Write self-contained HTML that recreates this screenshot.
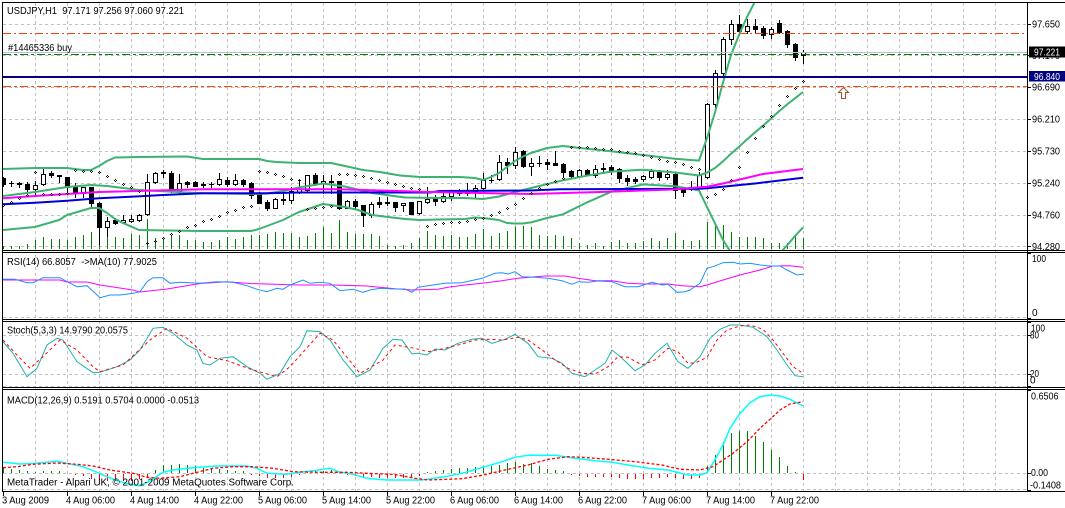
<!DOCTYPE html>
<html><head><meta charset="utf-8"><style>
html,body{margin:0;padding:0;background:#fff;}
svg{display:block;}
text{font-family:"Liberation Sans",sans-serif;font-size:10px;fill:#000;white-space:pre;}
</style></head><body>
<svg width="1065" height="508" viewBox="0 0 1065 508" xmlns="http://www.w3.org/2000/svg" xmlns:xlink="http://www.w3.org/1999/xlink">
<defs>
<clipPath id="cm"><rect x="3" y="3" width="1024" height="247"/></clipPath>
<clipPath id="cr"><rect x="3" y="253" width="1024" height="66"/></clipPath>
<clipPath id="cs"><rect x="3" y="322" width="1024" height="65"/></clipPath>
<clipPath id="cd"><rect x="3" y="390" width="1024" height="101"/></clipPath>
<path id="sd" d="M0,-1h1v1h-1zM-1,0h1v1h-1zM1,0h1v1h-1zM0,1h1v1h-1z" fill="#000" shape-rendering="crispEdges"/>
</defs>
<rect x="0" y="0" width="1065" height="508" fill="#fff"/>

<!-- grid -->
<g stroke="#C0C0C0" stroke-width="1" stroke-dasharray="3,3" fill="none" shape-rendering="crispEdges">
<path d="M35.5,3V491M67.5,3V491M99.5,3V491M131.5,3V491M163.5,3V491M195.5,3V491M227.5,3V491M259.5,3V491M291.5,3V491M323.5,3V491M355.5,3V491M387.5,3V491M419.5,3V491M451.5,3V491M483.5,3V491M515.5,3V491M547.5,3V491M579.5,3V491M611.5,3V491M643.5,3V491M675.5,3V491M707.5,3V491M739.5,3V491M771.5,3V491M803.5,3V491M835.5,3V491M867.5,3V491M899.5,3V491M931.5,3V491M963.5,3V491M995.5,3V491"/>
<path d="M3,24.5H1027M3,55.5H1027M3,87.5H1027M3,119.5H1027M3,151.5H1027M3,183.5H1027M3,215.5H1027M3,246.5H1027M3,317.5H1027M3,335.5H1027M3,374.5H1027M3,386.5H1027M3,473.5H1027M3,489.5H1027"/>
</g>

<!-- MAIN PANEL -->
<g clip-path="url(#cm)">
<!-- volumes -->
<path stroke="#008000" stroke-width="1" fill="none" shape-rendering="crispEdges" d="M3.5,249V246M11.5,249V246M19.5,249V246M27.5,249V244M35.5,249V240M43.5,249V237M51.5,249V239M59.5,249V239M67.5,249V240M75.5,249V237M83.5,249V235M91.5,249V232M99.5,249V227M107.5,249V236M115.5,249V237M123.5,249V238M131.5,249V234M139.5,249V235M147.5,249V219M155.5,249V238M163.5,249V239M171.5,249V235M179.5,249V235M187.5,249V240M195.5,249V240M203.5,249V242M211.5,249V242M219.5,249V240M227.5,249V237M235.5,249V239M243.5,249V237M251.5,249V235M259.5,249V235M267.5,249V234M275.5,249V232M283.5,249V233M291.5,249V233M299.5,249V237M307.5,249V236M315.5,249V233M323.5,249V227M331.5,249V233M339.5,249V220M347.5,249V232M355.5,249V234M363.5,249V234M371.5,249V234M379.5,249V236M387.5,249V245M395.5,249V246M403.5,249V245M411.5,249V243M419.5,249V238M427.5,249V231M435.5,249V235M443.5,249V236M451.5,249V235M459.5,249V237M467.5,249V237M475.5,249V234M483.5,249V229M491.5,249V236M499.5,249V233M507.5,249V231M515.5,249V227M523.5,249V226M531.5,249V227M539.5,249V235M547.5,249V236M555.5,249V235M563.5,249V236M571.5,249V238M579.5,249V243M587.5,249V245M595.5,249V243M603.5,249V246M611.5,249V242M619.5,249V240M627.5,249V243M635.5,249V243M643.5,249V241M651.5,249V238M659.5,249V241M667.5,249V238M675.5,249V233M683.5,249V240M691.5,249V241M699.5,249V240M707.5,249V222M715.5,249V223M723.5,249V225M731.5,249V232M739.5,249V237M747.5,249V237M755.5,249V237M763.5,249V238M771.5,249V243M779.5,249V243M787.5,249V243M795.5,249V235M803.5,249V238"/>

<!-- candles -->
<path stroke="#000" stroke-width="1" fill="none" shape-rendering="crispEdges" d="M3.5,177V187M11.5,181V187M19.5,182V188M27.5,182V192M35.5,181V196M43.5,169V186M51.5,171V178M59.5,175V183M67.5,177V194M75.5,183V198M83.5,187V198M91.5,187V209M99.5,202V245M107.5,217V237M115.5,218V225M123.5,215V224M131.5,215V223M139.5,214V222M147.5,174V216M155.5,172V184M163.5,170V178M171.5,171V193M179.5,174V194M187.5,181V188M195.5,181V187M203.5,182V188M211.5,182V188M219.5,173V186M227.5,177V187M235.5,174V186M243.5,179V187M251.5,182V199M259.5,192V204M267.5,200V211M275.5,198V209M283.5,193V205M291.5,187V204M299.5,180V194M307.5,175V192M315.5,173V186M323.5,175V194M331.5,175V194M339.5,181V210M347.5,200V209M355.5,199V209M363.5,205V227M371.5,202V218M379.5,197V208M387.5,197V206M395.5,202V212M403.5,203V212M411.5,202V215M419.5,201V215M427.5,187V204M435.5,195V206M443.5,193V203M451.5,191V201M459.5,189V196M467.5,183V196M475.5,185V199M483.5,173V190M491.5,175V183M499.5,155V181M507.5,158V174M515.5,147V169M523.5,150V168M531.5,158V176M539.5,156V167M547.5,159V170M555.5,151V166M563.5,163V178M571.5,170V179M579.5,169V178M587.5,169V176M595.5,165V178M603.5,163V174M611.5,165V175M619.5,168V183M627.5,175V186M635.5,177V184M643.5,175V182M651.5,169V179M659.5,170V181M667.5,170V180M675.5,173V199M683.5,187V197M691.5,181V191M699.5,172V189M707.5,103V179M715.5,70V108M723.5,37V83M731.5,20V45M739.5,15V34M747.5,19V34M755.5,19V34M763.5,26V39M771.5,27V39M779.5,20V34M787.5,30V48M795.5,43V61M803.5,50V64M9,183.5h5M209,184.5h5M489,180.5h5M537,163.5h5"/>
<g fill="#fff" stroke="#000" stroke-width="1" shape-rendering="crispEdges">
<rect x="33.5" y="185.5" width="4" height="4"/><rect x="41.5" y="174.5" width="4" height="10"/><rect x="81.5" y="187.5" width="4" height="6"/><rect x="105.5" y="221.5" width="4" height="6"/><rect x="121.5" y="220.5" width="4" height="2"/><rect x="129.5" y="219.5" width="4" height="2"/><rect x="137.5" y="215.5" width="4" height="5"/><rect x="145.5" y="182.5" width="4" height="32"/><rect x="153.5" y="173.5" width="4" height="9"/><rect x="177.5" y="183.5" width="4" height="8"/><rect x="217.5" y="179.5" width="4" height="5"/><rect x="233.5" y="180.5" width="4" height="4"/><rect x="273.5" y="199.5" width="4" height="9"/><rect x="289.5" y="191.5" width="4" height="9"/><rect x="297.5" y="189.5" width="4" height="3"/><rect x="305.5" y="175.5" width="4" height="15"/><rect x="321.5" y="181.5" width="4" height="2"/><rect x="345.5" y="201.5" width="4" height="7"/><rect x="369.5" y="204.5" width="4" height="11"/><rect x="401.5" y="203.5" width="4" height="2"/><rect x="417.5" y="201.5" width="4" height="12"/><rect x="425.5" y="199.5" width="4" height="3"/><rect x="441.5" y="196.5" width="4" height="5"/><rect x="449.5" y="192.5" width="4" height="4"/><rect x="465.5" y="190.5" width="4" height="3"/><rect x="473.5" y="188.5" width="4" height="3"/><rect x="481.5" y="180.5" width="4" height="8"/><rect x="497.5" y="162.5" width="4" height="17"/><rect x="513.5" y="152.5" width="4" height="13"/><rect x="529.5" y="163.5" width="4" height="3"/><rect x="577.5" y="170.5" width="4" height="6"/><rect x="593.5" y="169.5" width="4" height="6"/><rect x="641.5" y="176.5" width="4" height="3"/><rect x="649.5" y="171.5" width="4" height="6"/><rect x="665.5" y="174.5" width="4" height="3"/><rect x="689.5" y="187.5" width="4" height="2"/><rect x="697.5" y="175.5" width="4" height="12"/><rect x="705.5" y="104.5" width="4" height="73"/><rect x="713.5" y="73.5" width="4" height="31"/><rect x="721.5" y="39.5" width="4" height="34"/><rect x="729.5" y="24.5" width="4" height="15"/><rect x="745.5" y="26.5" width="4" height="5"/><rect x="769.5" y="29.5" width="4" height="5"/><rect x="801.5" y="52.5" width="4" height="3"/>
</g>
<g fill="#000" shape-rendering="crispEdges">
<rect x="1" y="178" width="5" height="7"/><rect x="17" y="183" width="5" height="2"/><rect x="25" y="184" width="5" height="6"/><rect x="49" y="173" width="5" height="3"/><rect x="57" y="175" width="5" height="2"/><rect x="65" y="177" width="5" height="11"/><rect x="73" y="186" width="5" height="8"/><rect x="89" y="187" width="5" height="17"/><rect x="97" y="203" width="5" height="25"/><rect x="113" y="220" width="5" height="4"/><rect x="161" y="172" width="5" height="2"/><rect x="169" y="173" width="5" height="19"/><rect x="185" y="182" width="5" height="3"/><rect x="193" y="182" width="5" height="5"/><rect x="201" y="184" width="5" height="2"/><rect x="225" y="180" width="5" height="5"/><rect x="241" y="180" width="5" height="5"/><rect x="249" y="183" width="5" height="13"/><rect x="257" y="193" width="5" height="11"/><rect x="265" y="202" width="5" height="7"/><rect x="281" y="199" width="5" height="2"/><rect x="313" y="175" width="5" height="10"/><rect x="329" y="181" width="5" height="2"/><rect x="337" y="181" width="5" height="28"/><rect x="353" y="201" width="5" height="6"/><rect x="361" y="205" width="5" height="11"/><rect x="377" y="202" width="5" height="3"/><rect x="385" y="202" width="5" height="2"/><rect x="393" y="202" width="5" height="6"/><rect x="409" y="202" width="5" height="13"/><rect x="433" y="198" width="5" height="4"/><rect x="457" y="191" width="5" height="3"/><rect x="505" y="162" width="5" height="4"/><rect x="521" y="151" width="5" height="16"/><rect x="545" y="162" width="5" height="3"/><rect x="553" y="163" width="5" height="3"/><rect x="561" y="164" width="5" height="9"/><rect x="569" y="171" width="5" height="6"/><rect x="585" y="170" width="5" height="5"/><rect x="601" y="168" width="5" height="2"/><rect x="609" y="167" width="5" height="4"/><rect x="617" y="169" width="5" height="10"/><rect x="625" y="178" width="5" height="4"/><rect x="633" y="179" width="5" height="3"/><rect x="657" y="171" width="5" height="7"/><rect x="673" y="174" width="5" height="17"/><rect x="681" y="189" width="5" height="4"/><rect x="737" y="24" width="5" height="8"/><rect x="753" y="26" width="5" height="4"/><rect x="761" y="28" width="5" height="8"/><rect x="777" y="23" width="5" height="10"/><rect x="785" y="31" width="5" height="14"/><rect x="793" y="44" width="5" height="14"/>
</g>

<!-- Bollinger -->
<g fill="none" stroke="#3CB371" stroke-width="2" stroke-linejoin="round">
<polyline points="3,169 35,168 67,168 83,170 91,170 99,166 107,161 115,157.5 139,157 187,156.5 203,159 259,159 267,161 276,162 299,163 331,163 345,166 363,170 380,172 400,175.5 420,177 460,177 475,178 483,180 491,177 499,173 507,167 515,161 523,156.5 531,153 547,148 563,146 587,148.8 611,151.3 643,155 675,158.7 699,160.6 707,138 715,112.5 723,82.5 731,55 739,35 747,17 755,1.6 763,-12"/>
<polyline points="3,196 35,192 67,187 91,185 107,186 139,190 187,192.5 203,193.3 259,194 267,193.5 283,191 299,187.5 323,183.5 345,186.5 372,193 405,197.5 438,198 465,198 483,199 499,196.5 515,192 531,188 563,180.3 587,175.6 611,171.6 643,169.7 675,172.5 699,175.5 707,172.6 715,168 723,161.3 731,153.7 739,146.8 747,139.4 755,132.4 763,125.7 771,118.6 779,111.3 787,104.5 795,98.3 803,92"/>
<polyline points="3,230 35,227 59,220 67,215 91,208 99,208 107,213 115,219 123,223 139,230 200,231 251,231 259,229 267,226 283,220 299,212 323,204 345,207 358,210 372,215 388,217 405,219 420,220 438,219.5 465,219 475,217.5 483,218 491,219 499,220 507,223 515,223.5 523,223.5 531,222.4 547,218 563,214.3 587,202.4 611,191.8 643,184.4 675,186.2 699,190.4 707,207 715,223.3 723,240 731,252.5 739,258 747,262 755,263 763,262 771,259 779,254 787,245.5 795,236 803,227.4"/>
</g>
<!-- MAs -->
<polyline fill="none" stroke="#0000DD" stroke-width="2" points="3,204.3 35,202.7 67,200.7 99,198.3 131,196.7 163,195 203,193.3 267,193.3 300,192.5 430,192.5 440,191 530,190.5 560,189.3 700,188.8 707,188.3 755,183.5 803,177.7"/>
<polyline fill="none" stroke="#FF00FF" stroke-width="2" points="3,198.3 35,196 67,194 99,192 147,190.7 203,189.3 340,189.3 380,190.5 430,192 480,193 530,194 600,192 672,189.5 707,186.7 723,183.5 763,174 803,169"/>

<!-- SAR -->
<g>
<use xlink:href="#sd" href="#sd" x="3" y="205"/><use xlink:href="#sd" href="#sd" x="11" y="202"/><use xlink:href="#sd" href="#sd" x="19" y="198"/><use xlink:href="#sd" href="#sd" x="27" y="195"/><use xlink:href="#sd" href="#sd" x="35" y="172"/><use xlink:href="#sd" href="#sd" x="43" y="194"/><use xlink:href="#sd" href="#sd" x="51" y="194"/><use xlink:href="#sd" href="#sd" x="59" y="194"/><use xlink:href="#sd" href="#sd" x="67" y="193"/><use xlink:href="#sd" href="#sd" x="75" y="170"/><use xlink:href="#sd" href="#sd" x="83" y="171"/><use xlink:href="#sd" href="#sd" x="91" y="171"/><use xlink:href="#sd" href="#sd" x="99" y="172"/><use xlink:href="#sd" href="#sd" x="107" y="176"/><use xlink:href="#sd" href="#sd" x="115" y="180"/><use xlink:href="#sd" href="#sd" x="123" y="184"/><use xlink:href="#sd" href="#sd" x="131" y="187"/><use xlink:href="#sd" href="#sd" x="139" y="191"/><use xlink:href="#sd" href="#sd" x="147" y="243"/><use xlink:href="#sd" href="#sd" x="155" y="241"/><use xlink:href="#sd" href="#sd" x="163" y="238"/><use xlink:href="#sd" href="#sd" x="171" y="234"/><use xlink:href="#sd" href="#sd" x="179" y="231"/><use xlink:href="#sd" href="#sd" x="187" y="227"/><use xlink:href="#sd" href="#sd" x="195" y="225"/><use xlink:href="#sd" href="#sd" x="203" y="221"/><use xlink:href="#sd" href="#sd" x="211" y="219"/><use xlink:href="#sd" href="#sd" x="219" y="216"/><use xlink:href="#sd" href="#sd" x="227" y="212"/><use xlink:href="#sd" href="#sd" x="235" y="210"/><use xlink:href="#sd" href="#sd" x="243" y="207"/><use xlink:href="#sd" href="#sd" x="251" y="206"/><use xlink:href="#sd" href="#sd" x="259" y="171"/><use xlink:href="#sd" href="#sd" x="267" y="172"/><use xlink:href="#sd" href="#sd" x="275" y="174"/><use xlink:href="#sd" href="#sd" x="283" y="176"/><use xlink:href="#sd" href="#sd" x="291" y="179"/><use xlink:href="#sd" href="#sd" x="299" y="180"/><use xlink:href="#sd" href="#sd" x="307" y="209"/><use xlink:href="#sd" href="#sd" x="315" y="208"/><use xlink:href="#sd" href="#sd" x="323" y="207"/><use xlink:href="#sd" href="#sd" x="331" y="206"/><use xlink:href="#sd" href="#sd" x="339" y="174"/><use xlink:href="#sd" href="#sd" x="347" y="174"/><use xlink:href="#sd" href="#sd" x="355" y="175"/><use xlink:href="#sd" href="#sd" x="363" y="176"/><use xlink:href="#sd" href="#sd" x="371" y="178"/><use xlink:href="#sd" href="#sd" x="379" y="180"/><use xlink:href="#sd" href="#sd" x="387" y="182"/><use xlink:href="#sd" href="#sd" x="395" y="184"/><use xlink:href="#sd" href="#sd" x="403" y="186"/><use xlink:href="#sd" href="#sd" x="411" y="188"/><use xlink:href="#sd" href="#sd" x="419" y="189"/><use xlink:href="#sd" href="#sd" x="427" y="226"/><use xlink:href="#sd" href="#sd" x="435" y="224"/><use xlink:href="#sd" href="#sd" x="443" y="223"/><use xlink:href="#sd" href="#sd" x="451" y="222"/><use xlink:href="#sd" href="#sd" x="459" y="222"/><use xlink:href="#sd" href="#sd" x="467" y="221"/><use xlink:href="#sd" href="#sd" x="475" y="219"/><use xlink:href="#sd" href="#sd" x="483" y="218"/><use xlink:href="#sd" href="#sd" x="491" y="215"/><use xlink:href="#sd" href="#sd" x="499" y="212"/><use xlink:href="#sd" href="#sd" x="507" y="208"/><use xlink:href="#sd" href="#sd" x="515" y="204"/><use xlink:href="#sd" href="#sd" x="523" y="198"/><use xlink:href="#sd" href="#sd" x="531" y="193"/><use xlink:href="#sd" href="#sd" x="539" y="188"/><use xlink:href="#sd" href="#sd" x="547" y="184"/><use xlink:href="#sd" href="#sd" x="555" y="181"/><use xlink:href="#sd" href="#sd" x="563" y="178"/><use xlink:href="#sd" href="#sd" x="571" y="147"/><use xlink:href="#sd" href="#sd" x="579" y="147"/><use xlink:href="#sd" href="#sd" x="587" y="147"/><use xlink:href="#sd" href="#sd" x="595" y="148"/><use xlink:href="#sd" href="#sd" x="603" y="149"/><use xlink:href="#sd" href="#sd" x="611" y="149"/><use xlink:href="#sd" href="#sd" x="619" y="151"/><use xlink:href="#sd" href="#sd" x="627" y="152"/><use xlink:href="#sd" href="#sd" x="635" y="153"/><use xlink:href="#sd" href="#sd" x="643" y="155"/><use xlink:href="#sd" href="#sd" x="651" y="157"/><use xlink:href="#sd" href="#sd" x="659" y="159"/><use xlink:href="#sd" href="#sd" x="667" y="161"/><use xlink:href="#sd" href="#sd" x="675" y="162"/><use xlink:href="#sd" href="#sd" x="683" y="164"/><use xlink:href="#sd" href="#sd" x="691" y="167"/><use xlink:href="#sd" href="#sd" x="699" y="169"/><use xlink:href="#sd" href="#sd" x="707" y="197"/><use xlink:href="#sd" href="#sd" x="715" y="194"/><use xlink:href="#sd" href="#sd" x="723" y="189"/><use xlink:href="#sd" href="#sd" x="731" y="180"/><use xlink:href="#sd" href="#sd" x="739" y="167"/><use xlink:href="#sd" href="#sd" x="747" y="152"/><use xlink:href="#sd" href="#sd" x="755" y="138"/><use xlink:href="#sd" href="#sd" x="763" y="126"/><use xlink:href="#sd" href="#sd" x="771" y="116"/><use xlink:href="#sd" href="#sd" x="779" y="105"/><use xlink:href="#sd" href="#sd" x="787" y="96"/><use xlink:href="#sd" href="#sd" x="795" y="88"/><use xlink:href="#sd" href="#sd" x="803" y="81"/>
</g>

<!-- horizontal order lines -->
<g fill="none" shape-rendering="crispEdges">
<path d="M3,33.5H1027" stroke="#FF4500" stroke-dasharray="8,3,2,3"/>
<path d="M3,52.5H1027" stroke="#C0C0C0"/>
<path d="M3,54.5H1027" stroke="#008000" stroke-dasharray="8,3,3,3"/>
<path d="M3,77H1027" stroke="#000080" stroke-width="2"/>
<path d="M3,86.5H1027" stroke="#FF4500" stroke-dasharray="8,3,3,3"/>
</g>
<polygon points="843.5,87.5 848.5,92.5 845.5,92.5 845.5,98.5 841.5,98.5 841.5,92.5 838.5,92.5" fill="#fff" stroke="#A0522D" stroke-width="1"/>
</g>

<!-- RSI PANEL -->
<g clip-path="url(#cr)" fill="none" stroke-width="1">
<polyline stroke="#FF00FF" points="3,280 60,280 67,282 87,282 100,285 133,290 140,292 167,289 200,283.5 227,281.7 250,283.5 300,285 333,285 367,286 395,288.8 412,290 438,289.3 448,287.3 465,285 482,283.3 502,280.7 518,278.3 545,276 565,276 578,278.3 595,280.7 612,280.7 628,283.3 645,284 668,284 682,285.7 700,286.7 707,285 723,280 740,275 760,270 773,266 790,265.7 803,267.3"/>
<polyline stroke="#1E90FF" points="3,279.3 15,279.3 27,282.7 33,282.7 43,277.7 60,277.7 67,281.7 77,286.7 87,285.7 100,297.7 110,295 120,295 133,293.3 140,291.7 147,281.7 153,277.7 163,277.7 170,283.3 180,282.3 190,282.7 200,283.3 217,281.7 233,282.3 247,285.7 257,289.3 267,291.7 277,288.3 283,289.3 290,285 303,280 310,283.3 320,282.3 330,283.3 340,290.7 353,289.3 363,292.3 370,290 380,288.3 395,289 405,289 412,292.3 418,287.3 428,285.7 445,283.3 462,282.7 482,278.3 495,273.3 502,272.7 508,274 515,271.7 522,276.7 535,277.3 548,278.3 562,280.7 572,284.3 578,281.7 588,282.3 598,281 612,281.7 625,286.7 638,286.7 652,282.3 662,285 668,284.3 677,292.3 685,291.7 690,290 700,283.3 707,268.3 713,266.7 723,262.7 733,262.3 740,264 750,263.3 760,265 770,266 780,266 787,270 797,275 803,274.3"/>
</g>

<!-- STOCH PANEL -->
<g clip-path="url(#cs)" fill="none" stroke-width="1">
<polyline stroke="#20B2AA" points="3,341.7 13,353.3 27,376.7 37,368.3 47,345 57,338.3 63,340 77,361.7 93,372.7 100,372.3 117,366.7 130,360 140,350 153,328.3 163,327.3 173,333.3 187,345 197,350 203,363.3 210,365 220,358.3 233,356.7 247,366.7 260,373.3 267,379.3 280,373.3 290,356.7 300,346.7 307,330.7 320,331.7 330,340 343,360 357,376.7 370,370 383,348.3 393,339.3 402,340 412,354 418,353.3 427,355 435,349 445,350 458,343.3 472,339.3 482,338.3 492,343.3 505,339.3 515,334.3 528,343.3 538,356.7 552,358.3 562,363.3 572,373.3 585,376.7 595,370 605,363.3 612,350 622,358.3 635,370.7 645,365 655,353.3 667,343.3 678,361.7 688,368.3 700,356.7 710,338.3 720,329.3 730,325 740,325 753,327.3 767,336.7 777,350 787,365 795,375.7 803,376.7"/>
<polyline stroke="#FF0000" stroke-dasharray="3,3" points="3,340 17,355 30,368.3 43,356.7 60,340 77,350 93,366.7 100,371.7 123,365 150,340 167,328.3 187,338.3 207,356.7 227,360.7 253,370 277,376.7 290,366.7 320,333.3 333,340 360,373.3 383,360 395,345 405,346.7 415,348.3 428,351.7 445,348.3 462,344 475,340 488,339.3 502,340 518,337.3 528,340 542,350 555,360 568,368.3 582,373.3 595,374 608,366.7 618,356.7 628,357.3 642,365 655,360 668,348.3 678,351.7 688,363.3 695,363 707,357.3 717,340 727,330 740,326 750,325 763,329.3 773,340 783,353.3 793,366.7 803,373.3"/>
</g>

<!-- MACD PANEL -->
<g clip-path="url(#cd)">
<g transform="translate(-0.5,0)">
<path stroke="#008000" stroke-width="1" fill="none" shape-rendering="crispEdges" d="M4,473V468M12,473V469M20,473V470M28,473V471M36,473V472M44,473V471M52,473V471M60,473V471M156,473V470M164,473V465M172,473V465M180,473V464M188,473V465M196,473V466M204,473V468M212,473V468M220,473V469M228,473V470M236,473V471M244,473V471M308,473V472M316,473V471M324,473V471M332,473V470M340,473V472M428,473V472M436,473V471M444,473V470M452,473V469M460,473V468M468,473V468M476,473V467M484,473V466M492,473V466M500,473V465M508,473V463M516,473V462M524,473V464M532,473V463M540,473V466M548,473V469M556,473V470M564,473V471M708,473V466M716,473V455M724,473V442M732,473V433M740,473V431M748,473V431M756,473V436M764,473V442M772,473V450M780,473V457M788,473V466M796,473V472"/>
<path stroke="#FF0000" stroke-width="1" fill="none" shape-rendering="crispEdges" d="M76,474V475M84,474V476M92,474V479M100,474V480M108,474V481M116,474V481M124,474V481M132,474V481M140,474V479M148,474V477M252,474V475M260,474V476M268,474V478M276,474V478M284,474V478M292,474V477M300,474V475M348,474V475M356,474V476M364,474V477M372,474V477M380,474V478M388,474V478M396,474V478M404,474V478M412,474V477M420,474V476M572,474V475M580,474V476M588,474V477M596,474V477M604,474V477M612,474V477M620,474V478M628,474V479M636,474V479M644,474V479M652,474V478M660,474V478M668,474V477M676,474V478M684,474V479M692,474V479M700,474V478M804,474V480"/>
</g>
<polyline fill="none" stroke="#00FFFF" stroke-width="1.5" points="3,462.3 20,464 33,463.5 57,461.3 67,463.3 83,466.7 97,472.3 107,476.7 120,481.7 133,485 140,485.7 150,481 163,472.3 173,470 193,467.7 217,466 247,466 257,468.3 267,473.3 287,474.3 300,472.3 317,470.3 330,468.3 340,472.3 353,474.3 367,478.3 387,480 422,480 445,476.7 462,473.3 485,466.7 502,461.7 515,457.3 528,455.3 555,455.3 568,457.3 595,460.7 612,462.3 628,465 648,468.3 668,470 688,475 700,475 707,472.7 713,463.3 723,445 730,428.3 740,413.3 750,402.7 760,396.7 770,395 780,396 790,399.3 803,406"/>
<polyline fill="none" stroke="#FF0000" stroke-width="1.3" stroke-dasharray="3,2" points="3,467.7 17,466.7 33,464.3 57,463 77,464.3 93,466 110,470 133,473.3 147,477.3 160,478.3 180,476.7 193,473.3 213,468.3 233,466.7 253,466.7 273,468.3 293,471.7 320,472.3 347,472.3 367,473.3 395,474.5 415,478.3 428,480 462,478.7 482,475.3 505,470 528,465 548,459.3 568,456.7 582,457.3 608,459.3 635,461.7 662,465 680,469.3 700,470 713,466.7 723,460 733,453.3 747,441.7 760,428.3 770,419.3 780,410 790,404 803,401.7"/>
</g>

<!-- frame -->
<g stroke="#000" stroke-width="1" fill="none" shape-rendering="crispEdges">
<path d="M2,2.5H1065M2,250.5H1065M2,252.5H1065M2,319.5H1065M2,321.5H1065M2,387.5H1065M2,389.5H1065M2,491.5H1065"/>
<path d="M2.5,2V492M1027.5,2V492"/>
<path d="M1027,24.5h4M1027,55.5h4M1027,87.5h4M1027,119.5h4M1027,151.5h4M1027,183.5h4M1027,215.5h4M1027,246.5h4M1027,253.5h4M1027,318.5h4M1027,322.5h4M1027,335.5h4M1027,374.5h4M1027,386.5h4M1027,390.5h4M1027,473.5h4M1027,490.5h4"/>
<path d="M3.5,491V496M67.5,491V496M131.5,491V496M195.5,491V496M259.5,491V496M323.5,491V496M387.5,491V496M451.5,491V496M515.5,491V496M579.5,491V496M643.5,491V496M707.5,491V496M771.5,491V496"/>
</g>

<!-- texts -->
<text x="7" y="14" textLength="177" lengthAdjust="spacingAndGlyphs">USDJPY,H1  97.171 97.256 97.060 97.221</text>
<text x="8" y="51" textLength="64" lengthAdjust="spacingAndGlyphs">#14465336 buy</text>
<text x="7" y="265" textLength="150" lengthAdjust="spacingAndGlyphs">RSI(14) 66.8057  -&gt;MA(10) 77.9025</text>
<text x="7" y="333.5" textLength="121" lengthAdjust="spacingAndGlyphs">Stoch(5,3,3) 14.9790 20.0575</text>
<text x="7" y="403.3" textLength="192" lengthAdjust="spacingAndGlyphs">MACD(12,26,9) 0.5191 0.5704 0.0000 -0.0513</text>
<text x="7" y="485.5" textLength="287" lengthAdjust="spacingAndGlyphs">MetaTrader - Alpari UK, © 2001-2009 MetaQuotes Software Corp.</text>

<g>
<text x="1032" y="27.5" textLength="28" lengthAdjust="spacingAndGlyphs">97.650</text>
<text x="1032" y="59" textLength="28" lengthAdjust="spacingAndGlyphs">97.170</text>
<text x="1032" y="90.5" textLength="28" lengthAdjust="spacingAndGlyphs">96.690</text>
<text x="1032" y="122.5" textLength="28" lengthAdjust="spacingAndGlyphs">96.210</text>
<text x="1032" y="154.5" textLength="28" lengthAdjust="spacingAndGlyphs">95.730</text>
<text x="1032" y="186.5" textLength="28" lengthAdjust="spacingAndGlyphs">95.240</text>
<text x="1032" y="218.5" textLength="28" lengthAdjust="spacingAndGlyphs">94.760</text>
<text x="1032" y="250" textLength="28" lengthAdjust="spacingAndGlyphs">94.280</text>
<rect x="1029" y="46.5" width="36" height="11" fill="#000"/>
<text x="1034" y="55.5" textLength="26" lengthAdjust="spacingAndGlyphs" style="fill:#fff">97.221</text>
<rect x="1029" y="71" width="36" height="10.5" fill="#000080"/>
<text x="1034" y="80" textLength="26" lengthAdjust="spacingAndGlyphs" style="fill:#fff">96.840</text>

<text x="1032" y="262" textLength="14" lengthAdjust="spacingAndGlyphs">100</text>
<text x="1032" y="316">0</text>
<text x="1031" y="331.5" textLength="14" lengthAdjust="spacingAndGlyphs">100</text>
<text x="1030" y="338.5" textLength="9" lengthAdjust="spacingAndGlyphs">80</text>
<text x="1030" y="377" textLength="9" lengthAdjust="spacingAndGlyphs">20</text>
<text x="1030" y="383.5">0</text>
<text x="1031" y="399.5" textLength="27.5" lengthAdjust="spacingAndGlyphs">0.6506</text>
<text x="1031" y="476" textLength="17" lengthAdjust="spacingAndGlyphs">0.00</text>
<text x="1030" y="488.5" textLength="31" lengthAdjust="spacingAndGlyphs">-0.1408</text>
</g>

<g>
<text x="2" y="503.5" textLength="47" lengthAdjust="spacingAndGlyphs">3 Aug 2009</text>
<text x="66" y="503.5" textLength="49" lengthAdjust="spacingAndGlyphs">4 Aug 06:00</text>
<text x="130" y="503.5" textLength="49" lengthAdjust="spacingAndGlyphs">4 Aug 14:00</text>
<text x="194" y="503.5" textLength="49" lengthAdjust="spacingAndGlyphs">4 Aug 22:00</text>
<text x="258" y="503.5" textLength="49" lengthAdjust="spacingAndGlyphs">5 Aug 06:00</text>
<text x="322" y="503.5" textLength="49" lengthAdjust="spacingAndGlyphs">5 Aug 14:00</text>
<text x="386" y="503.5" textLength="49" lengthAdjust="spacingAndGlyphs">5 Aug 22:00</text>
<text x="450" y="503.5" textLength="49" lengthAdjust="spacingAndGlyphs">6 Aug 06:00</text>
<text x="514" y="503.5" textLength="49" lengthAdjust="spacingAndGlyphs">6 Aug 14:00</text>
<text x="578" y="503.5" textLength="49" lengthAdjust="spacingAndGlyphs">6 Aug 22:00</text>
<text x="642" y="503.5" textLength="49" lengthAdjust="spacingAndGlyphs">7 Aug 06:00</text>
<text x="706" y="503.5" textLength="49" lengthAdjust="spacingAndGlyphs">7 Aug 14:00</text>
<text x="770" y="503.5" textLength="49" lengthAdjust="spacingAndGlyphs">7 Aug 22:00</text>
</g>
</svg>
</body></html>
